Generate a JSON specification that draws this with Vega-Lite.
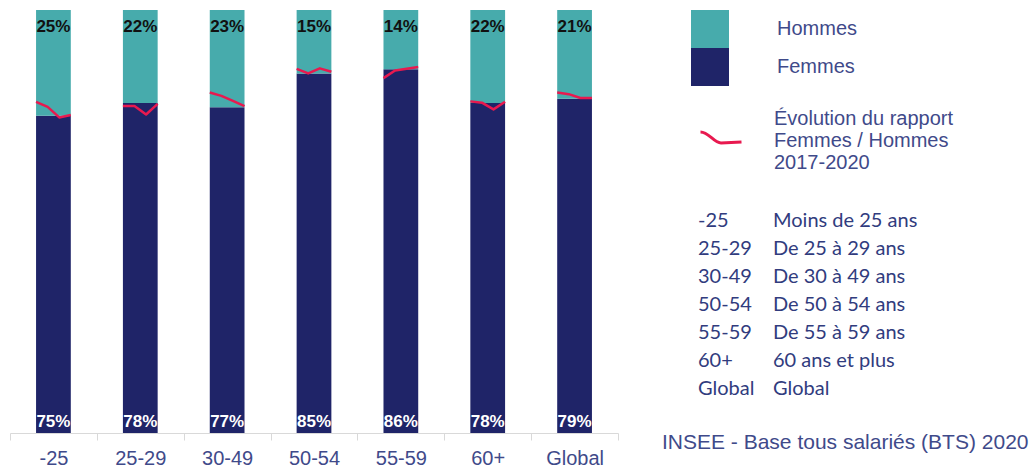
{
  "$schema": "https://vega.github.io/schema/vega-lite/v6.json",
  "padding": {"left": 9, "top": 10, "right": 0, "bottom": 0},
  "background": "white",
  "config": {"view": {"stroke": null}, "font": "Liberation Sans"},
  "datasets": {
    "parts": [
      {"tranche": "-25", "sexe": "Femmes", "part": 0.75},
      {"tranche": "-25", "sexe": "Hommes", "part": 0.25},
      {"tranche": "25-29", "sexe": "Femmes", "part": 0.78},
      {"tranche": "25-29", "sexe": "Hommes", "part": 0.22},
      {"tranche": "30-49", "sexe": "Femmes", "part": 0.77},
      {"tranche": "30-49", "sexe": "Hommes", "part": 0.23},
      {"tranche": "50-54", "sexe": "Femmes", "part": 0.85},
      {"tranche": "50-54", "sexe": "Hommes", "part": 0.15},
      {"tranche": "55-59", "sexe": "Femmes", "part": 0.86},
      {"tranche": "55-59", "sexe": "Hommes", "part": 0.14},
      {"tranche": "60+", "sexe": "Femmes", "part": 0.78},
      {"tranche": "60+", "sexe": "Hommes", "part": 0.22},
      {"tranche": "Global", "sexe": "Femmes", "part": 0.79},
      {"tranche": "Global", "sexe": "Hommes", "part": 0.21}
    ],
    "evolution": [
      {"tranche": "-25", "annee": 2017, "rapport": 0.783},
      {"tranche": "-25", "annee": 2018, "rapport": 0.771},
      {"tranche": "-25", "annee": 2019, "rapport": 0.746},
      {"tranche": "-25", "annee": 2020, "rapport": 0.752},
      {"tranche": "25-29", "annee": 2017, "rapport": 0.773},
      {"tranche": "25-29", "annee": 2018, "rapport": 0.773},
      {"tranche": "25-29", "annee": 2019, "rapport": 0.753},
      {"tranche": "25-29", "annee": 2020, "rapport": 0.778},
      {"tranche": "30-49", "annee": 2017, "rapport": 0.805},
      {"tranche": "30-49", "annee": 2018, "rapport": 0.797},
      {"tranche": "30-49", "annee": 2019, "rapport": 0.785},
      {"tranche": "30-49", "annee": 2020, "rapport": 0.773},
      {"tranche": "50-54", "annee": 2017, "rapport": 0.861},
      {"tranche": "50-54", "annee": 2018, "rapport": 0.850},
      {"tranche": "50-54", "annee": 2019, "rapport": 0.862},
      {"tranche": "50-54", "annee": 2020, "rapport": 0.854},
      {"tranche": "55-59", "annee": 2017, "rapport": 0.839},
      {"tranche": "55-59", "annee": 2018, "rapport": 0.857},
      {"tranche": "55-59", "annee": 2019, "rapport": 0.861},
      {"tranche": "55-59", "annee": 2020, "rapport": 0.865},
      {"tranche": "60+", "annee": 2017, "rapport": 0.784},
      {"tranche": "60+", "annee": 2018, "rapport": 0.781},
      {"tranche": "60+", "annee": 2019, "rapport": 0.765},
      {"tranche": "60+", "annee": 2020, "rapport": 0.783},
      {"tranche": "Global", "annee": 2017, "rapport": 0.805},
      {"tranche": "Global", "annee": 2018, "rapport": 0.801},
      {"tranche": "Global", "annee": 2019, "rapport": 0.792},
      {"tranche": "Global", "annee": 2020, "rapport": 0.792}
    ],
    "tranches": [
      {"rang": 1, "code": "-25", "libelle": "Moins de 25 ans"},
      {"rang": 2, "code": "25-29", "libelle": "De 25 à 29 ans"},
      {"rang": 3, "code": "30-49", "libelle": "De 30 à 49 ans"},
      {"rang": 4, "code": "50-54", "libelle": "De 50 à 54 ans"},
      {"rang": 5, "code": "55-59", "libelle": "De 55 à 59 ans"},
      {"rang": 6, "code": "60+", "libelle": "60 ans et plus"},
      {"rang": 7, "code": "Global", "libelle": "Global"}
    ]
  },
  "spacing": 43,
  "hconcat": [
    {
      "width": 608,
      "height": 423,
      "resolve": {"scale": {"xOffset": "independent"}},
      "layer": [
        {
          "data": {"name": "parts"},
          "mark": {"type": "bar", "width": {"band": 0.4}},
          "encoding": {
            "x": {
              "field": "tranche", "type": "nominal",
              "scale": {"domain": ["-25", "25-29", "30-49", "50-54", "55-59", "60+", "Global"], "paddingInner": 0, "paddingOuter": 0},
              "axis": {
                "title": null, "labelAngle": 0, "tickBand": "extent",
                "domainColor": "#d9d9d9", "tickColor": "#d9d9d9", "tickSize": 7,
                "labelFontSize": 20, "labelColor": "#3F4A8A", "labelFont": "Liberation Sans", "labelPadding": 8
              }
            },
            "y": {"field": "part", "type": "quantitative", "stack": "zero", "scale": {"domain": [0, 1], "nice": false}, "axis": null},
            "color": {
              "field": "sexe", "type": "nominal",
              "scale": {"domain": ["Hommes", "Femmes"], "range": ["#47ABAC", "#1F2468"]},
              "legend": {
                "orient": "none", "legendX": 681, "legendY": 0, "title": null, "padding": 0,
                "symbolType": "square", "symbolSize": 1444, "symbolStrokeWidth": 0, "symbolOpacity": 1,
                "labelFontSize": 20, "labelColor": "#3F4A8A", "labelFont": "Liberation Sans", "labelOffset": 48, "rowPadding": 0
              }
            },
            "order": {"field": "sexe", "sort": "ascending"}
          }
        },
        {
          "data": {"name": "evolution"},
          "mark": {"type": "line", "strokeWidth": 2.5, "strokeJoin": "round"},
          "encoding": {
            "x": {"field": "tranche", "type": "nominal"},
            "xOffset": {"field": "annee", "type": "ordinal", "scale": {"type": "point", "domain": [2015, 2016, 2017, 2018, 2019, 2020, 2021, 2022], "padding": 0.25}},
            "y": {"field": "rapport", "type": "quantitative"},
            "detail": {"field": "tranche"},
            "order": {"field": "annee"},
            "stroke": {
              "datum": "evolution", "type": "nominal",
              "scale": {"domain": ["evolution"], "range": ["#E8194F"]},
              "legend": {
                "orient": "none", "legendX": 689, "legendY": 87, "title": null, "padding": 0,
                "symbolType": "M-1,0.63C-0.6,0.63 -0.35,1.17 0,1.17L1,1.12", "symbolSize": 1681,
                "symbolStrokeWidth": 3, "symbolStrokeColor": "#FF1A1A", "symbolFillColor": "transparent",
                "labelExpr": "['Évolution  du rapport', 'Femmes  / Hommes', ' 2017-2020']",
                "labelFontSize": 20, "labelColor": "#3F4A8A", "labelFont": "Liberation Sans",
                "labelOffset": 31, "labelLimit": 400
              }
            }
          }
        },
        {
          "data": {"name": "parts"},
          "transform": [{"filter": "datum.sexe === 'Hommes'"}],
          "mark": {"type": "text", "dy": 17, "fontSize": 17, "fontWeight": "bold", "color": "#111111", "baseline": "middle"},
          "encoding": {
            "x": {"field": "tranche", "type": "nominal"},
            "y": {"datum": 1},
            "text": {"field": "part", "type": "quantitative", "format": ".0%"}
          }
        },
        {
          "data": {"name": "parts"},
          "transform": [{"filter": "datum.sexe === 'Femmes'"}],
          "mark": {"type": "text", "dy": -11, "fontSize": 17, "fontWeight": "bold", "color": "#ffffff", "baseline": "middle"},
          "encoding": {
            "x": {"field": "tranche", "type": "nominal"},
            "y": {"datum": 0},
            "text": {"field": "part", "type": "quantitative", "format": ".0%"}
          }
        }
      ]
    },
    {
      "width": 75,
      "height": 423,
      "data": {"name": "tranches"},
      "title": {
        "text": "INSEE - Base tous  salariés (BTS) 2020", "orient": "bottom", "anchor": "start", "frame": "group",
        "dx": -36, "offset": 10, "baseline": "middle", "align": "left",
        "fontSize": 21, "fontWeight": "normal", "color": "#3F4A8A", "font": "Liberation Sans"
      },
      "transform": [{"fold": ["code", "libelle"], "as": ["colonne", "texte"]}],
      "mark": {"type": "text", "align": "left", "baseline": "middle", "font": "Lato", "fontSize": 20, "color": "#313C7E"},
      "encoding": {
        "x": {"field": "colonne", "type": "nominal", "scale": {"type": "point", "domain": ["code", "libelle"], "padding": 0}, "axis": null},
        "y": {"field": "rang", "type": "quantitative", "scale": {"domain": [-6.54, 8.57], "reverse": true, "nice": false, "zero": false}, "axis": null},
        "text": {"field": "texte"}
      }
    }
  ]
}
